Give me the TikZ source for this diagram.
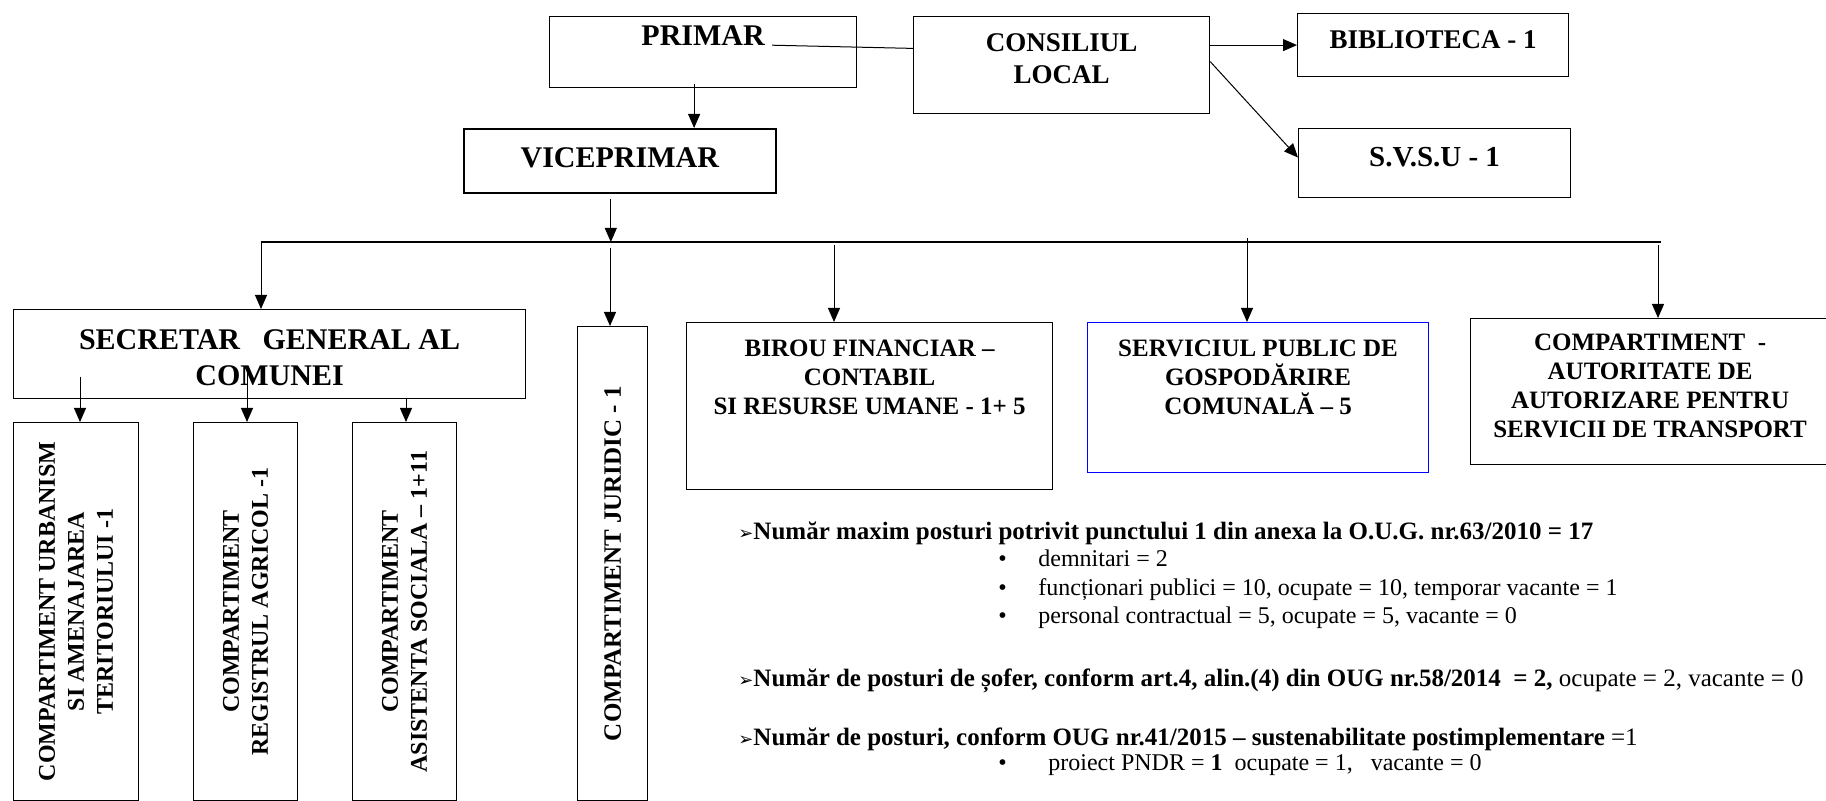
\documentclass[tikz,border=0pt]{standalone}
\usepackage{fontspec}
\setmainfont{Liberation Serif}
\newfontfamily\dingfont{DejaVu Sans}
\usetikzlibrary{arrows.meta,positioning,calc}
\tikzset{
box/.style={
  draw=black, line width=0.6pt, anchor=north west, inner sep=0pt
  },
bigtext/.style={
  font=\bfseries\fontsize{15}{18}\selectfont, align=center, inner sep=0pt
  },
midtext/.style={
  font=\bfseries\fontsize{13.5}{16}\selectfont, align=center, inner sep=0pt
  },
unittext/.style={
  font=\bfseries\fontsize{12.5}{14.5}\selectfont, align=center, inner sep=0pt
  },
vtext/.style={
  rotate=90, font=\bfseries\fontsize{12}{14.5}\selectfont, align=center, inner sep=0pt
  },
note/.style={
  font=\fontsize{12}{14}\selectfont, anchor=base west, inner sep=0pt
  },
notehead/.style={
  note, font=\bfseries\fontsize{12.5}{15}\selectfont
  },
arr/.style={->, line width=0.5pt},
link/.style={line width=0.5pt},
bus/.style={line width=0.7pt}
}
\newcommand{\pointer}{{\dingfont\fontsize{9}{9}\selectfont ➢}}

\begin{document}
\begin{tikzpicture}[x=0.5pt,y=-0.5pt,>={Triangle[length=7pt,width=6pt]}]
\useasboundingbox (0,0) rectangle (1826,801);

% top

\node[box, minimum width=153.5pt, minimum height=35.5pt] (primar) at (549,16) {};
\node[bigtext, below=4.5pt of primar.north] (primar-t) {PRIMAR};

\node[box, minimum width=148pt, minimum height=48.5pt] (consiliu) at (913,16) {};
\node[midtext, below=8.5pt of consiliu.north] (consiliu-t) {CONSILIUL\\LOCAL};

\node[box, minimum width=135.5pt, minimum height=31.5pt] (biblio) at (1297,13) {};
\node[midtext, below=8.5pt of biblio.north] (biblio-t) {BIBLIOTECA - 1};

\node[box, minimum width=136pt, minimum height=34.5pt] (svsu) at (1298,128) {};
\node[midtext, font=\bfseries\fontsize{14.5}{17}\selectfont, below=9.5pt of svsu.north] (svsu-t) {S.V.S.U - 1};

\node[box, line width=0.8pt, minimum width=156pt, minimum height=32pt] (vice) at (463,128) {};
\node[bigtext, below=9.5pt of vice.north] (vice-t) {VICEPRIMAR};

\draw[link] ([xshift=3.5pt]primar-t.base east) -- ($(consiliu.north west)!0.33!(consiliu.south west)$);
\draw[arr] (consiliu.east |- biblio.west) -- (biblio.west);
\draw[arr] ([yshift=1.75pt]consiliu.east) -- ([yshift=2.75pt]svsu.west);

\coordinate (pv) at ($(primar.south)+(-9,-4)$);
\draw[arr] (pv) -- (pv |- vice.north);

% bus

\coordinate (busL) at (261,242);
\coordinate (busR) at (1661,242);
\coordinate (vb) at ($(vice.south)+(-9,5)$);
\draw[arr] (vb) -- (vb |- busL);
\draw[bus] (busL) -- (busR);

% secretar

\node[box, minimum width=256pt, minimum height=44.5pt] (secretar) at (13,309) {};
\node[bigtext, below=10pt of secretar.north] (secretar-t) {SECRETAR~~ GENERAL AL\\COMUNEI};

\node[box, minimum width=62.5pt, minimum height=189pt] (urb) at (13,422) {};
\node[box, minimum width=52pt, minimum height=189pt] (agr) at (193,422) {};
\node[box, minimum width=52pt, minimum height=189pt] (asist) at (352,422) {};

\node[vtext] (urb-t) at (urb.center) {COMPARTIMENT URBANISM\\SI AMENAJAREA\\TERITORIULUI -1};
\node[vtext] (agr-t) at (agr.center) {COMPARTIMENT\\REGISTRUL AGRICOL -1};
\node[vtext] (asist-t) at (asist.center) {COMPARTIMENT\\ASISTENTA SOCIALA – 1+11};

\foreach \x/\y/\n in {80/377/urb, 247/372/agr, 406/398/asist}{
  \coordinate (s-\n) at (\x,\y);
  \draw[arr] (s-\n) -- (s-\n |- \n.north);
}

% units

\node[box, minimum width=35pt, minimum height=237pt] (juridic) at (577,326) {};
\node[vtext, font=\bfseries\fontsize{12.5}{15}\selectfont] (juridic-t) at (juridic.center) {COMPARTIMENT JURIDIC - 1};

\node[box, minimum width=183pt, minimum height=83.5pt] (birou) at (686,322) {};
\node[unittext, below=9pt of birou.north] (birou-t) {BIROU FINANCIAR –\\CONTABIL\\SI RESURSE UMANE - 1+ 5};

\node[box, draw=blue, minimum width=170.5pt, minimum height=75pt] (serv) at (1087,322) {};
\node[unittext, below=9pt of serv.north] (serv-t) {SERVICIUL PUBLIC DE\\GOSPODĂRIRE\\COMUNALĂ – 5};

\node[box, minimum width=179.5pt, minimum height=73pt] (compart) at (1470,318) {};
\node[unittext, below=8pt of compart.north] (compart-t) {COMPARTIMENT~ -\\AUTORITATE DE\\AUTORIZARE PENTRU\\SERVICII DE TRANSPORT};

\foreach \x/\y/\n in {261/242/secretar, 610/248/juridic, 834/245/birou, 1247/238/serv, 1658/245/compart}{
  \coordinate (d-\n) at (\x,\y);
  \draw[arr] (d-\n) -- (d-\n |- \n.north);
}

% posturi

\node[notehead] (n1) at (738,540) {\pointer Număr maxim posturi potrivit punctului 1 din anexa la O.U.G. nr.63/2010 = 17};

\foreach \y/\t/\n in {567/{demnitari = 2}/b1,
  596/{funcționari publici = 10, ocupate = 10, temporar vacante = 1}/b2,
  624/{personal contractual = 5, ocupate = 5, vacante = 0}/b3}
  \node[note] (\n) at (998,\y) {\makebox[20pt][l]{•}\t};

\node[notehead] (n2) at (738,687) {\pointer Număr de posturi de șofer, conform art.4, alin.(4) din OUG nr.58/2014~ = 2,{\mdseries\ ocupate = 2, vacante = 0}};

\node[notehead] (n3) at (738,745) {\pointer Număr de posturi, conform OUG nr.41/2015 – sustenabilitate postimplementare {\mdseries =1}};

\node[note] (b4) at (998,770) {\makebox[25pt][l]{•}proiect PNDR = \textbf{1}~ ocupate = 1,~~ vacante = 0};

\end{tikzpicture}
\end{document}
